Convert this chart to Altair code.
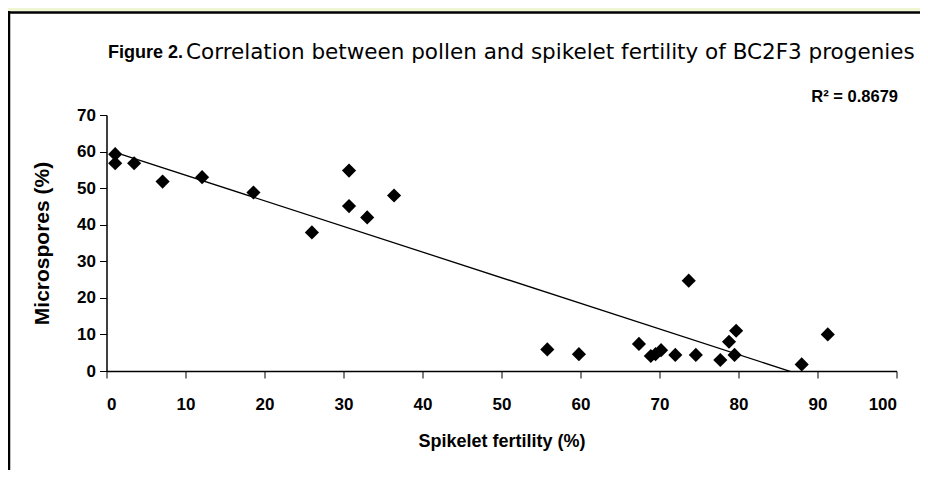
import altair as alt
import pandas as pd

spikelet = [1.1, 1.1, 3.5, 7.1, 12.1, 18.6, 26.0, 30.7, 30.7, 33.0, 36.4,
            55.8, 59.8, 67.4, 68.9, 69.5, 70.2, 72.0, 73.7, 74.6, 77.7,
            78.8, 79.7, 79.5, 88.0, 91.3]
microspores = [59.3, 56.8, 56.8, 51.8, 53.0, 48.8, 37.9, 54.8, 45.1, 42.0, 48.0,
               5.9, 4.6, 7.4, 4.1, 4.6, 5.7, 4.4, 24.7, 4.4, 3.0,
               8.0, 11.0, 4.4, 1.8, 10.0]
x_ticks = list(range(0, 101, 10))
y_ticks = list(range(0, 71, 10))
title_bold = "Figure 2."
title_rest = "Correlation between pollen and spikelet fertility of BC2F3 progenies"
r2_label = "R\u00b2 = 0.8679"

df = pd.DataFrame({"spikelet": spikelet, "microspores": microspores})

W, H = 790, 256
one = alt.Data(values=[{"a": 1}])

x_axis = alt.Axis(values=x_ticks, title="Spikelet fertility (%)",
                  labelPadding=18, titlePadding=20, titleFontSize=18, zindex=1)
y_axis = alt.Axis(values=y_ticks, title="Microspores (%)",
                  labelPadding=4, titlePadding=24, titleFontSize=21, zindex=1)
x_scale = alt.Scale(domain=[0, 100], nice=False)
y_scale = alt.Scale(domain=[0, 70], nice=False)

# decorative page strip and frame lines (outside the plot area)
strip = alt.Chart(one).mark_rect(fill="#EFF6D2", clip=False).encode(
    x=alt.value(-98.5), x2=alt.value(W + 30), y=alt.value(-107), y2=alt.value(-104)
)
top_edge = alt.Chart(one).mark_rule(color="black", strokeWidth=2.5, clip=False).encode(
    x=alt.value(-98.5), x2=alt.value(W + 30), y=alt.value(-102.5)
)
left_edge = alt.Chart(one).mark_rule(color="black", strokeWidth=2.5, clip=False).encode(
    x=alt.value(-97.5), y=alt.value(-104), y2=alt.value(H + 100)
)

points = alt.Chart(df).mark_point(shape="diamond", filled=True, color="black",
                                  size=200, opacity=1).encode(
    x=alt.X("spikelet:Q", scale=x_scale, axis=x_axis),
    y=alt.Y("microspores:Q", scale=y_scale, axis=y_axis))

line = alt.Chart(df).transform_regression(
    "spikelet", "microspores", method="linear"
).mark_line(color="black", strokeWidth=1.3, clip=True).encode(
    x=alt.X("spikelet:Q", scale=x_scale, axis=x_axis),
    y=alt.Y("microspores:Q", scale=y_scale, axis=y_axis))

t1 = alt.Chart(one).mark_text(text=title_bold, font="Liberation Sans",
                              fontWeight="bold", fontSize=18, align="left",
                              baseline="middle", color="black").encode(
    x=alt.value(1.5), y=alt.value(-62))
t2 = alt.Chart(one).mark_text(text=title_rest, font="DejaVu Sans",
                              fontSize=21.5, align="left", baseline="middle", color="black").encode(
    x=alt.value(79.5), y=alt.value(-62))
r2 = alt.Chart(one).mark_text(text=r2_label, font="Liberation Sans", fontWeight="bold",
                              fontSize=16.5, align="right", baseline="middle", color="black").encode(
    x=alt.value(791.5), y=alt.value(-18))

chart = alt.layer(points, line, strip, top_edge, left_edge, t1, t2, r2).properties(
    width=W, height=H,
    autosize=alt.AutoSizeParams(type="none"),
    padding={"left": 98.5, "top": 107, "right": 23.5, "bottom": 99},
    background="white",
).configure_view(strokeWidth=0).configure_axis(
    domainColor="black", domainWidth=1.5, tickColor="black", tickSize=7, tickWidth=1,
    labelFont="Liberation Sans", labelFontWeight="bold", labelFontSize=17, labelColor="black",
    titleFont="Liberation Sans", titleFontWeight="bold", titleColor="black",
    grid=False
)

chart.save("out.html", embed_options={"renderer": "svg", "actions": False})
